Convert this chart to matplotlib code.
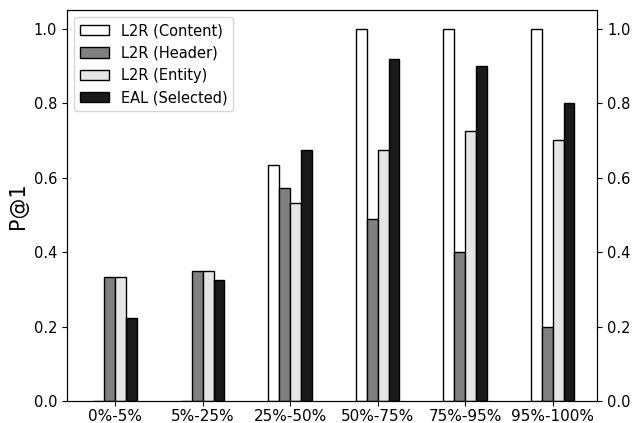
import numpy as np
import matplotlib.pyplot as plt

# P@1 per bucket
buckets = ['0%-5%', '5%-25%', '25%-50%', '50%-75%', '75%-95%', '95%-100%']
l2r_content = [0.0, 0.0, 0.633, 1.0, 1.0, 1.0]
l2r_header = [0.333, 0.35, 0.571, 0.49, 0.40, 0.20]
l2r_entity = [0.333, 0.35, 0.531, 0.673, 0.725, 0.70]
eal_selected = [0.222, 0.326, 0.673, 0.918, 0.90, 0.80]

series = [
    ('L2R (Content)', l2r_content, 'white'),
    ('L2R (Header)', l2r_header, '#808080'),
    ('L2R (Entity)', l2r_entity, '#e5e5e5'),
    ('EAL (Selected)', eal_selected, '#1a1a1a'),
]

x = np.arange(len(buckets))
w = 0.125

fig, ax = plt.subplots(figsize=(6.32, 4.23), dpi=100)
for i, (name, vals, col) in enumerate(series):
    ax.bar(x - 0.25 + i * w, vals, w, align='edge', color=col,
           edgecolor='black', linewidth=1.0, label=name)

ax.set_xticks(x)
ax.set_xticklabels(buckets)
ax.set_xlim(-0.55, 5.51)
ax.set_ylim(0, 1.05)
ax.set_yticks([0.0, 0.2, 0.4, 0.6, 0.8, 1.0])
ax.tick_params(axis='x', labelsize=11, pad=2)
ax.tick_params(axis='y', labelsize=10.5)
ax.set_ylabel('P@1', fontsize=15)
ax.legend(loc='upper left', fontsize=10.5)

ax2 = ax.twinx()
ax2.set_ylim(0, 1.05)
ax2.set_yticks([0.0, 0.2, 0.4, 0.6, 0.8, 1.0])
ax2.tick_params(axis='y', labelsize=10.5)

fig.subplots_adjust(left=0.106, right=0.945, top=0.976, bottom=0.052)
fig.savefig('out.png', dpi=100)
